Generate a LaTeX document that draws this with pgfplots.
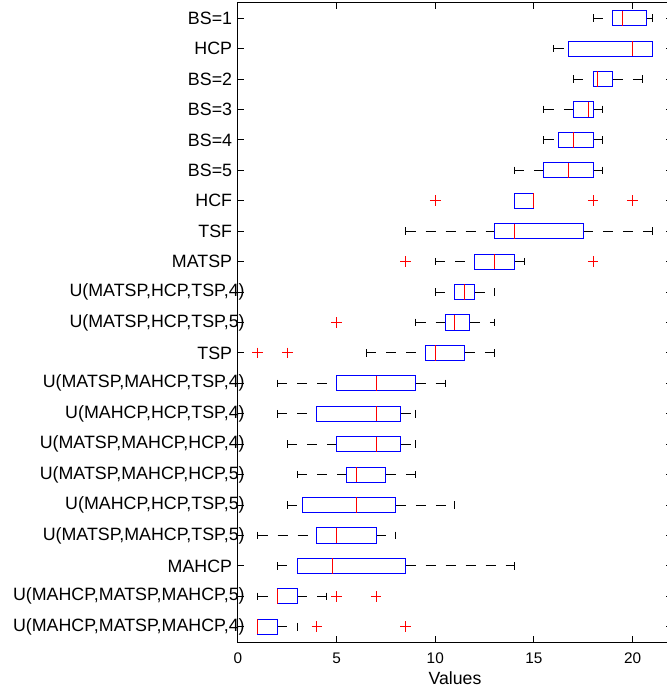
\documentclass[border=0pt]{standalone}
\usepackage{fontspec}
\setmainfont{Liberation Sans}
\usepackage{pgfplots}
\usepgfplotslibrary{statistics}
\pgfplotsset{compat=1.18}
\newcommand\ylab{\fontsize{10.7}{12.5}\selectfont}
\newcommand\xlab{\fontsize{9.2}{11}\selectfont}
\newcommand\ov[1]{\makebox[\dimexpr\width-7.5pt\relax][l]{#1}}
\newcommand\bx[7]{%
  \addplot[blue, line width=0.6pt, mark=+, mark size=3.2pt, mark options={red, solid, line width=0.6pt},
    boxplot prepared={draw position=#1, lower whisker=#2, lower quartile=#3, median=#4,
      upper quartile=#5, upper whisker=#6, box extend=0.5, whisker extend=0.25}]
    coordinates {#7};}
\pgfplotsset{
  boxplot/every median/.style={red, line width=0.6pt},
  boxplot/every box/.style={blue, line width=0.6pt},
  boxplot/draw/lower whisker/.code={%
    \draw[black, line width=0.6pt, dash pattern=on 6pt off 6pt]
      (boxplot box cs:\pgfplotsboxplotvalue{lower whisker},0.5) -- (boxplot box cs:\pgfplotsboxplotvalue{lower quartile},0.5);
    \draw[black, line width=0.6pt, solid]
      (boxplot whisker cs:\pgfplotsboxplotvalue{lower whisker},0) -- (boxplot whisker cs:\pgfplotsboxplotvalue{lower whisker},1);
  },
  boxplot/draw/upper whisker/.code={%
    \draw[black, line width=0.6pt, dash pattern=on 6pt off 6pt]
      (boxplot box cs:\pgfplotsboxplotvalue{upper quartile},0.5) -- (boxplot box cs:\pgfplotsboxplotvalue{upper whisker},0.5);
    \draw[black, line width=0.6pt, solid]
      (boxplot whisker cs:\pgfplotsboxplotvalue{upper whisker},0) -- (boxplot whisker cs:\pgfplotsboxplotvalue{upper whisker},1);
  },
}
\begin{document}
\begin{tikzpicture}
\begin{axis}[
  scale only axis, width=260.4pt, height=383.4pt,
  xmin=0, xmax=22, ymin=0.5, ymax=21.5, y dir=reverse,
  axis line style={line width=0.6pt}, tick style={black, line width=0.6pt},
  tick align=inside, major tick length=3.8pt,
  xtick={0,5,10,15,20},
  ytick={1,...,21},
  yticklabels={{BS=1},{HCP},{BS=2},{BS=3},{BS=4},{BS=5},{HCF},{TSF},{MATSP},
    {\ov{U(MATSP,HCP,TSP,4)}},{\ov{U(MATSP,HCP,TSP,5)}},{TSP},
    {\ov{U(MATSP,MAHCP,TSP,4)}},{\ov{U(MAHCP,HCP,TSP,4)}},
    {\ov{U(MATSP,MAHCP,HCP,4)}},{\ov{U(MATSP,MAHCP,HCP,5)}},
    {\ov{U(MAHCP,HCP,TSP,5)}},{\ov{U(MATSP,MAHCP,TSP,5)}},{MAHCP},
    {\ov{U(MAHCP,MATSP,MAHCP,5)}},{\ov{U(MAHCP,MATSP,MAHCP,4)}}},
  yticklabel style={font=\ylab},
  xticklabel style={font=\xlab, yshift=-3pt},
  /pgf/number format/assume math mode=true,
  xlabel={Values}, xlabel style={font=\fontsize{10.6}{12}\selectfont, yshift=2pt},
]
\bx{1}{18}{19}{19.5}{20.7}{21}{}
\bx{2}{16}{16.75}{20}{21}{21}{}
\bx{3}{17}{18}{18.2}{19}{20.5}{}
\bx{4}{15.5}{17}{17.75}{18}{18.5}{}
\bx{5}{15.5}{16.25}{17}{18}{18.5}{}
\bx{6}{14}{15.5}{16.75}{18}{18.5}{}
\bx{7}{14}{14}{15}{15}{15}{(0,10) (0,18) (0,20)}
\bx{8}{8.5}{13}{14}{17.5}{21}{}
\bx{9}{10}{12}{13}{14}{14.5}{(0,8.5) (0,18)}
\bx{10}{10}{11}{11.5}{12}{13}{}
\bx{11}{9}{10.5}{11}{11.75}{13}{(0,5)}
\bx{12}{6.5}{9.5}{10}{11.5}{13}{(0,1) (0,2.5)}
\bx{13}{2}{5}{7}{9}{10.5}{}
\bx{14}{2}{4}{7}{8.25}{9}{}
\bx{15}{2.5}{5}{7}{8.25}{9}{}
\bx{16}{3}{5.5}{6}{7.5}{9}{}
\bx{17}{2.5}{3.25}{6}{8}{11}{}
\bx{18}{1}{4}{5}{7}{8}{}
\bx{19}{2}{3}{4.8}{8.5}{14}{}
\bx{20}{1}{2}{2}{3}{4.5}{(0,5) (0,7)}
\bx{21}{1}{1}{1}{2}{3}{(0,4) (0,8.5)}
\end{axis}
\pgfresetboundingbox
\path[use as bounding box] (-142.8pt,-29.4pt) rectangle (257.4pt,385.2pt);
\end{tikzpicture}
\end{document}
